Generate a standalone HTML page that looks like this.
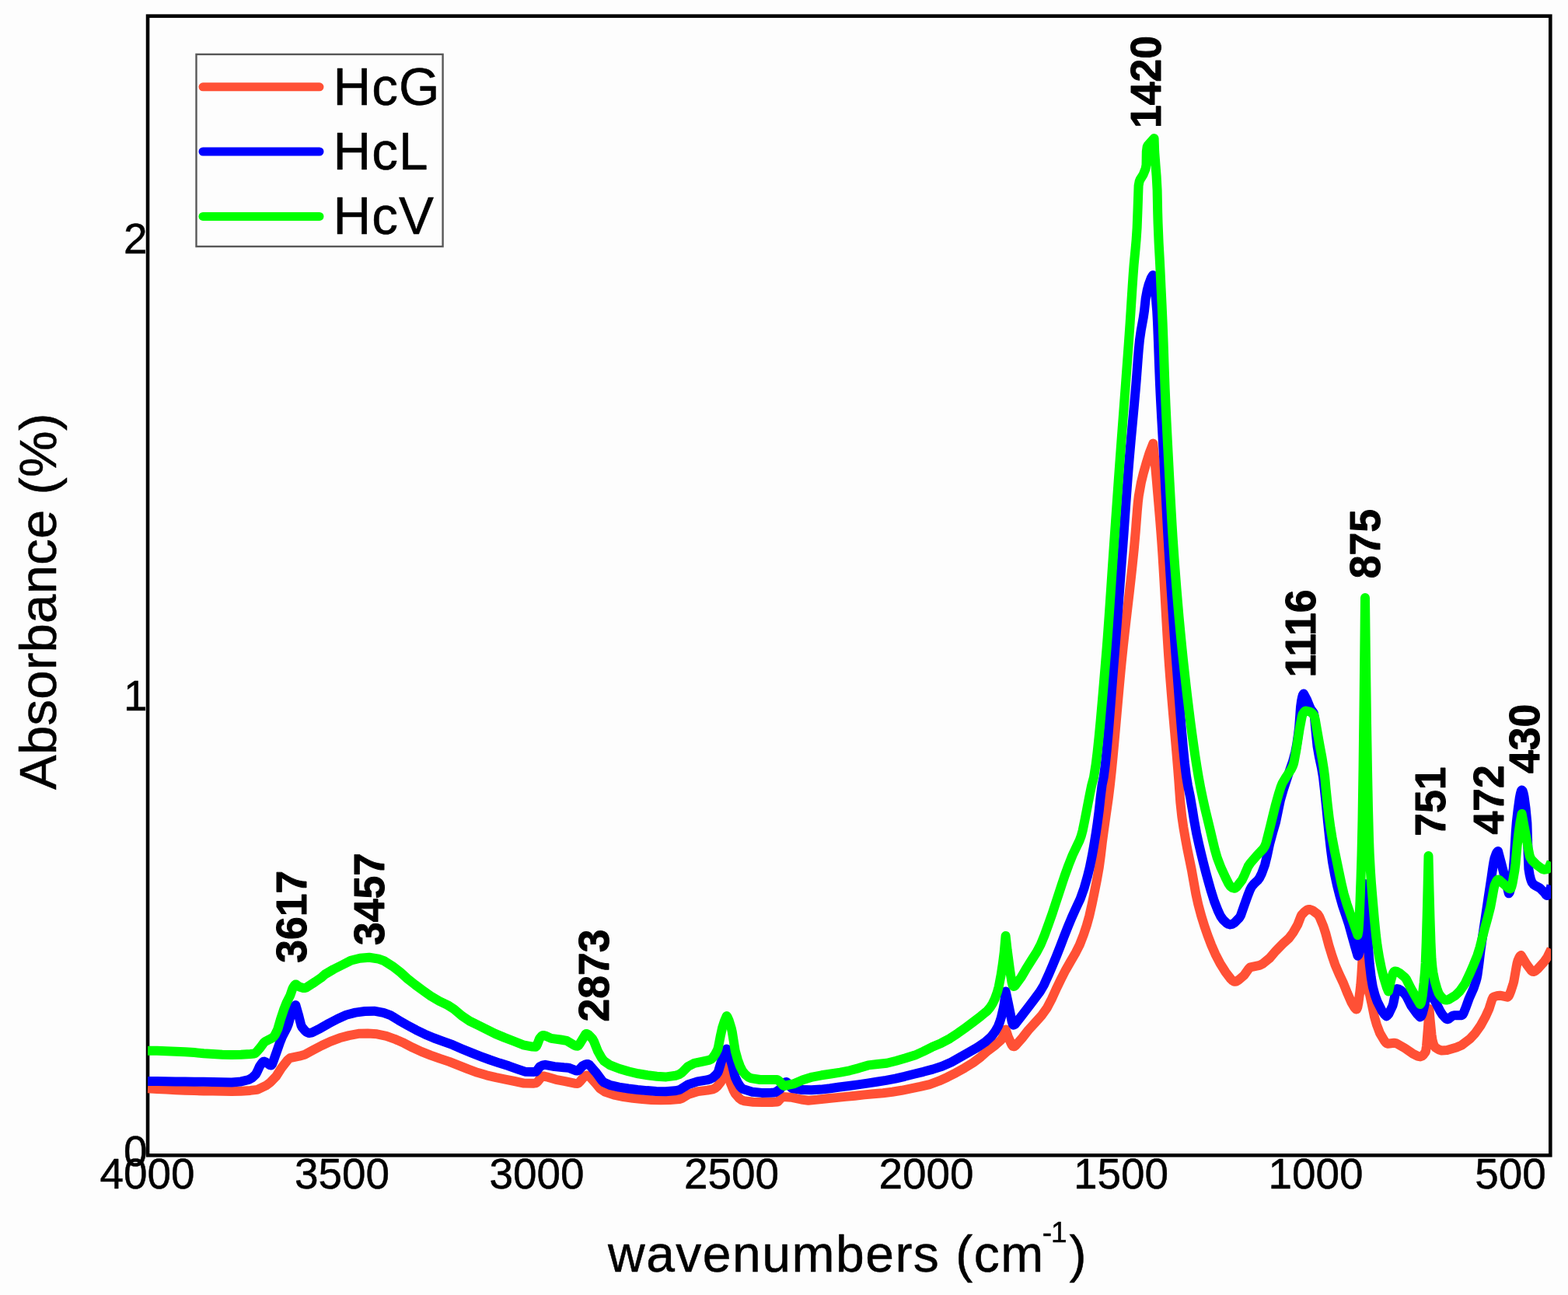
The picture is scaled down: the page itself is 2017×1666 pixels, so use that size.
<!DOCTYPE html>
<html lang="en">
<head>
<meta charset="utf-8">
<title>FTIR absorbance spectra - HcG, HcL, HcV</title>
<style>
  html, body { margin: 0; padding: 0; background: #fdfdfd; }
  body { width: 2017px; height: 1666px; overflow: hidden; font-family: "Liberation Sans", sans-serif; }
  svg { display: block; position: absolute; left: 0; top: 0; }
  text { font-family: "Liberation Sans", sans-serif; fill: #000; stroke: #000; stroke-width: 0.5px; stroke-linejoin: round; }
  text.pk { font-weight: bold; stroke-width: 1px; }
  .curve { fill: none; stroke-width: 12; stroke-linejoin: round; stroke-linecap: butt; }
</style>
</head>
<body>
<svg width="2017" height="1666" viewBox="0 0 2017 1666">
<rect x="0" y="0" width="2017" height="1666" fill="#fdfdfd"/>
<defs><clipPath id="plot"><rect x="189.6" y="20" width="1805.4" height="1466.5"/></clipPath></defs>

<rect x="190.05" y="20.65" width="1804.25" height="1465.65" fill="none" stroke="#000" stroke-width="4.6"/>
<g clip-path="url(#plot)">
<path class="curve" stroke="#ff5035" d="M190.0 1400.3 L202.0 1401.0 L214.0 1401.6 L226.0 1402.2 L238.0 1402.7 L250.0 1403.1 L262.0 1403.4 L274.0 1403.6 L286.0 1403.8 L298.0 1403.9 L310.0 1403.7 L322.0 1402.9 L331.0 1401.9 L342.0 1396.7 L348.0 1392.2 L355.0 1384.9 L362.0 1374.0 L370.0 1363.8 L373.0 1361.2 L385.0 1358.7 L392.0 1356.7 L403.0 1350.7 L414.0 1345.0 L425.0 1339.8 L437.0 1335.3 L449.0 1332.1 L461.0 1329.8 L473.0 1329.5 L485.0 1330.3 L497.0 1332.8 L509.0 1337.2 L520.0 1342.1 L531.0 1347.8 L542.0 1352.9 L554.0 1357.6 L566.0 1361.9 L578.0 1365.9 L590.0 1370.6 L602.0 1375.4 L614.0 1379.8 L626.0 1383.3 L638.0 1386.1 L650.0 1388.6 L662.0 1391.0 L674.0 1393.6 L686.0 1393.7 L689.0 1393.4 L690.0 1393.0 L692.0 1391.1 L696.0 1386.1 L697.0 1385.2 L698.0 1384.6 L699.0 1384.4 L703.0 1385.3 L715.0 1388.8 L727.0 1391.1 L739.0 1393.7 L743.0 1393.9 L744.0 1393.5 L746.0 1391.5 L750.4 1386.4 L754.0 1383.7 L755.3 1383.4 L757.0 1383.9 L759.0 1385.5 L767.0 1394.6 L772.0 1400.5 L778.0 1404.5 L790.0 1408.7 L802.0 1411.1 L814.0 1412.8 L826.0 1414.0 L838.0 1414.9 L850.0 1415.2 L862.0 1414.9 L874.0 1414.1 L877.0 1413.1 L886.0 1407.7 L898.0 1404.1 L910.0 1402.6 L917.0 1401.3 L920.0 1399.8 L923.0 1397.3 L927.0 1392.3 L928.0 1390.4 L930.0 1385.0 L933.8 1371.0 L936.8 1383.5 L939.8 1393.6 L943.8 1403.4 L945.8 1407.0 L950.8 1412.7 L953.8 1415.1 L956.8 1416.2 L968.8 1417.7 L980.8 1418.1 L992.8 1417.9 L999.8 1417.6 L1000.8 1417.0 L1005.8 1411.4 L1006.8 1410.9 L1018.8 1411.8 L1030.8 1414.5 L1039.8 1415.7 L1051.8 1414.6 L1063.8 1413.2 L1075.8 1412.1 L1087.8 1410.9 L1099.8 1409.7 L1111.8 1408.4 L1123.8 1407.3 L1135.8 1406.2 L1147.8 1404.7 L1159.8 1402.8 L1171.8 1400.4 L1183.8 1397.9 L1195.8 1395.1 L1207.8 1390.7 L1218.8 1385.7 L1229.8 1380.1 L1240.8 1373.9 L1251.8 1367.1 L1261.8 1359.6 L1270.8 1351.6 L1280.8 1344.1 L1286.8 1338.8 L1288.9 1336.3 L1290.8 1332.6 L1293.8 1324.5 L1296.8 1333.7 L1300.8 1342.7 L1301.8 1344.6 L1302.8 1345.9 L1303.8 1346.3 L1304.8 1346.1 L1306.8 1344.6 L1314.8 1335.5 L1322.8 1325.2 L1331.8 1315.4 L1339.8 1306.4 L1346.8 1296.7 L1352.8 1285.2 L1358.8 1272.1 L1364.8 1259.7 L1370.8 1247.9 L1376.8 1237.4 L1383.8 1225.4 L1388.8 1215.5 L1393.8 1202.6 L1397.8 1190.6 L1401.2 1178.5 L1404.8 1162.5 L1407.6 1148.7 L1410.8 1132.7 L1413.8 1116.0 L1415.8 1101.3 L1417.8 1084.1 L1419.8 1069.1 L1421.8 1055.0 L1423.8 1040.9 L1425.8 1026.8 L1427.8 1010.8 L1429.8 992.3 L1431.8 971.9 L1433.8 950.2 L1435.8 927.7 L1437.8 905.0 L1439.8 882.6 L1441.8 861.2 L1443.0 849.0 L1444.8 831.7 L1446.8 813.5 L1448.8 796.0 L1450.8 778.9 L1452.8 761.7 L1454.8 744.1 L1456.8 725.7 L1458.8 706.1 L1460.8 683.5 L1461.8 670.4 L1462.8 657.6 L1463.8 646.4 L1464.8 638.0 L1467.8 621.2 L1470.8 608.9 L1474.8 594.8 L1478.8 582.1 L1483.3 570.6 L1485.3 590.6 L1487.3 612.4 L1489.3 635.6 L1491.3 659.3 L1492.3 671.3 L1493.3 683.9 L1494.3 697.2 L1495.3 711.7 L1496.3 727.6 L1497.3 744.4 L1498.3 761.9 L1499.3 779.7 L1500.3 797.4 L1501.3 814.6 L1502.3 831.0 L1503.3 846.1 L1504.3 860.0 L1505.3 873.2 L1506.3 885.9 L1507.3 898.1 L1509.3 921.4 L1511.3 944.2 L1513.3 967.2 L1515.3 991.2 L1516.3 1004.0 L1517.3 1018.3 L1518.3 1032.0 L1520.3 1050.6 L1522.3 1064.2 L1524.9 1079.3 L1527.3 1092.2 L1530.3 1106.7 L1532.8 1119.0 L1535.3 1133.1 L1538.3 1149.9 L1541.3 1163.5 L1545.3 1178.4 L1549.3 1191.2 L1553.3 1202.9 L1558.3 1216.0 L1563.3 1227.4 L1569.3 1239.1 L1576.3 1250.3 L1583.3 1259.5 L1585.3 1261.4 L1587.3 1262.6 L1588.4 1262.8 L1590.3 1262.5 L1593.3 1260.8 L1600.3 1254.8 L1606.3 1246.3 L1608.3 1244.3 L1620.3 1241.9 L1624.3 1239.9 L1633.3 1232.5 L1641.3 1223.2 L1650.3 1214.0 L1658.3 1206.7 L1663.3 1200.0 L1669.3 1189.5 L1673.3 1179.2 L1674.3 1177.1 L1678.3 1172.8 L1681.3 1170.7 L1683.3 1170.0 L1685.3 1170.1 L1688.3 1171.1 L1695.3 1176.4 L1697.3 1179.5 L1702.3 1191.5 L1705.3 1200.9 L1709.3 1216.0 L1713.3 1229.0 L1717.3 1240.8 L1722.3 1252.6 L1728.3 1265.4 L1733.3 1277.9 L1738.3 1289.4 L1742.3 1296.1 L1743.3 1297.4 L1744.3 1298.2 L1745.0 1298.4 L1745.3 1298.3 L1746.3 1295.8 L1747.3 1290.9 L1749.3 1276.0 L1750.3 1267.2 L1751.3 1254.5 L1752.3 1237.5 L1753.3 1217.2 L1754.3 1194.2 L1755.0 1177.0 L1756.0 1210.3 L1757.0 1238.4 L1758.0 1259.0 L1759.0 1270.0 L1760.0 1274.0 L1762.0 1279.8 L1765.0 1293.6 L1768.0 1308.1 L1771.0 1318.5 L1775.0 1329.1 L1781.0 1339.2 L1783.0 1341.6 L1784.0 1342.3 L1785.3 1342.7 L1793.2 1341.7 L1796.0 1342.1 L1807.0 1348.4 L1817.0 1355.3 L1824.0 1358.9 L1827.0 1359.4 L1829.0 1358.7 L1831.0 1357.1 L1833.6 1353.5 L1834.0 1352.4 L1835.0 1345.8 L1837.0 1321.2 L1838.0 1305.9 L1838.5 1298.0 L1839.5 1310.8 L1841.5 1331.2 L1842.5 1337.8 L1843.5 1341.7 L1844.5 1344.5 L1845.5 1346.5 L1846.5 1347.7 L1850.5 1350.2 L1854.5 1351.5 L1861.5 1351.1 L1873.5 1347.5 L1880.5 1344.4 L1890.5 1336.8 L1897.5 1329.4 L1904.5 1319.5 L1910.5 1308.7 L1915.5 1297.7 L1919.5 1285.2 L1920.5 1283.3 L1921.5 1282.5 L1926.5 1280.9 L1929.5 1280.7 L1938.9 1282.7 L1939.5 1282.5 L1940.5 1281.6 L1941.5 1279.9 L1943.5 1275.0 L1946.7 1265.0 L1947.5 1261.8 L1950.5 1244.5 L1951.5 1239.3 L1952.6 1235.4 L1954.5 1231.3 L1955.5 1229.8 L1956.6 1229.0 L1963.6 1240.4 L1969.6 1248.5 L1970.6 1249.4 L1971.6 1249.9 L1972.6 1250.0 L1974.6 1249.3 L1977.6 1246.9 L1986.6 1236.9 L1990.6 1231.0 L1995.5 1221.0"/>
<path class="curve" stroke="#0000ff" d="M190.0 1391.0 L202.0 1391.1 L214.0 1391.2 L226.0 1391.4 L238.0 1391.5 L250.0 1391.7 L262.0 1391.8 L274.0 1392.1 L286.0 1392.3 L298.0 1392.4 L310.0 1391.4 L320.0 1389.0 L324.0 1386.8 L329.0 1382.1 L331.0 1378.4 L334.0 1371.7 L337.0 1367.5 L338.0 1366.4 L339.0 1365.7 L340.0 1365.6 L342.0 1366.5 L347.0 1370.1 L348.6 1370.5 L349.0 1370.4 L350.0 1369.2 L352.0 1364.1 L356.0 1352.7 L360.0 1341.3 L363.0 1333.8 L369.0 1322.3 L371.0 1317.3 L375.0 1302.5 L376.3 1299.0 L379.0 1294.3 L380.3 1293.0 L384.3 1307.0 L387.3 1318.9 L388.3 1321.1 L392.3 1326.0 L394.3 1327.7 L396.3 1328.7 L398.3 1329.0 L401.3 1328.3 L412.3 1322.8 L423.3 1316.5 L434.3 1310.7 L445.3 1305.8 L457.3 1302.6 L469.3 1301.0 L481.3 1300.7 L493.3 1302.9 L502.3 1306.2 L513.3 1312.8 L524.3 1319.1 L535.3 1325.1 L546.3 1330.4 L558.3 1335.5 L570.3 1339.8 L582.3 1344.2 L594.3 1349.4 L606.3 1354.4 L618.3 1359.1 L630.3 1363.5 L642.3 1367.6 L654.3 1371.3 L666.3 1375.6 L675.3 1378.7 L687.3 1378.9 L689.3 1378.7 L690.3 1377.9 L694.3 1372.4 L698.3 1370.3 L701.3 1369.8 L713.3 1372.1 L725.3 1373.3 L731.3 1373.7 L740.3 1377.2 L742.5 1377.5 L743.3 1377.4 L744.3 1376.8 L749.3 1371.4 L753.3 1369.3 L755.3 1368.9 L756.3 1369.0 L758.3 1370.1 L766.2 1379.2 L774.3 1390.1 L776.3 1392.2 L784.3 1395.8 L796.3 1398.6 L808.3 1400.5 L820.3 1402.0 L832.3 1403.1 L844.3 1403.9 L856.3 1404.3 L868.3 1403.3 L874.3 1402.0 L885.3 1395.2 L897.1 1391.4 L909.3 1389.4 L914.3 1387.9 L917.3 1386.2 L921.3 1382.5 L923.3 1379.9 L924.3 1377.6 L928.3 1364.3 L933.3 1352.4 L934.8 1349.5 L939.8 1363.4 L941.8 1370.2 L944.8 1382.6 L945.8 1386.1 L948.8 1392.4 L951.8 1397.2 L953.8 1399.5 L955.8 1401.1 L967.8 1404.7 L979.8 1405.9 L991.8 1405.7 L995.8 1405.5 L997.8 1404.9 L1003.8 1400.9 L1008.8 1393.7 L1009.8 1392.6 L1011.2 1392.0 L1011.8 1392.1 L1012.8 1392.8 L1017.8 1399.3 L1019.0 1400.0 L1031.8 1402.1 L1043.8 1402.3 L1055.8 1401.6 L1067.8 1400.3 L1079.8 1398.5 L1091.8 1397.0 L1103.8 1395.4 L1115.8 1393.6 L1127.8 1391.8 L1139.8 1389.9 L1151.8 1387.6 L1163.8 1384.8 L1175.8 1381.7 L1187.8 1378.8 L1199.8 1375.6 L1211.8 1371.8 L1223.8 1366.5 L1234.8 1360.2 L1245.8 1354.1 L1256.8 1347.7 L1267.8 1340.3 L1274.8 1333.9 L1279.8 1327.6 L1284.0 1320.1 L1285.8 1315.6 L1287.8 1309.3 L1290.8 1296.6 L1291.8 1291.2 L1293.7 1275.5 L1296.7 1289.4 L1299.7 1304.3 L1301.7 1314.2 L1302.7 1317.4 L1303.7 1318.6 L1304.7 1318.4 L1305.7 1317.7 L1313.7 1307.6 L1321.7 1297.2 L1329.7 1286.7 L1337.7 1275.9 L1342.7 1267.5 L1348.7 1254.3 L1353.7 1242.6 L1358.7 1230.6 L1363.7 1218.0 L1368.7 1204.8 L1373.7 1192.2 L1378.7 1180.3 L1383.7 1169.1 L1389.7 1156.3 L1394.7 1142.2 L1398.7 1128.2 L1401.7 1116.1 L1404.7 1101.5 L1406.9 1089.2 L1409.7 1072.1 L1411.7 1058.5 L1413.7 1043.3 L1415.7 1024.9 L1417.6 1009.9 L1419.7 999.7 L1421.7 984.6 L1423.7 965.2 L1425.7 942.7 L1426.7 930.5 L1427.7 918.0 L1428.7 905.2 L1429.7 892.2 L1430.7 879.3 L1431.7 866.6 L1432.7 854.1 L1433.7 841.9 L1434.7 829.5 L1435.7 816.9 L1436.7 804.1 L1437.7 791.0 L1438.7 777.9 L1439.7 764.6 L1440.7 751.2 L1441.7 737.8 L1442.7 724.4 L1443.7 711.0 L1444.7 697.6 L1445.7 684.0 L1446.7 670.0 L1447.7 656.0 L1448.7 642.0 L1449.7 628.2 L1450.7 614.8 L1451.7 602.0 L1452.7 589.8 L1454.7 567.0 L1456.7 545.4 L1458.7 523.9 L1460.7 501.6 L1461.7 489.4 L1462.7 476.2 L1463.7 462.8 L1464.7 450.3 L1466.0 437.0 L1467.7 425.3 L1470.7 408.8 L1472.0 400.0 L1473.7 384.2 L1475.7 373.4 L1477.7 365.8 L1480.7 357.9 L1483.0 354.0 L1485.0 367.9 L1487.0 385.6 L1488.2 400.0 L1489.0 414.9 L1490.0 440.4 L1491.0 468.7 L1492.0 494.6 L1493.0 515.3 L1494.0 534.2 L1495.0 552.0 L1496.0 569.4 L1497.0 587.0 L1498.0 605.5 L1499.0 624.8 L1500.0 644.3 L1501.0 663.7 L1502.0 682.4 L1503.0 700.0 L1504.0 716.7 L1505.0 732.9 L1506.0 748.8 L1507.0 764.2 L1508.0 779.3 L1509.0 794.0 L1510.0 808.3 L1511.0 822.2 L1512.0 835.8 L1513.0 849.0 L1514.0 862.1 L1515.0 875.3 L1516.0 888.6 L1517.0 901.7 L1518.0 914.7 L1519.0 927.3 L1520.0 939.6 L1522.0 962.4 L1524.0 982.4 L1526.0 998.6 L1528.0 1010.6 L1531.0 1025.0 L1534.0 1042.4 L1536.0 1055.1 L1539.0 1071.4 L1542.0 1085.2 L1545.0 1097.9 L1548.0 1110.1 L1551.0 1121.8 L1554.6 1134.9 L1558.0 1146.8 L1562.0 1159.5 L1567.0 1172.2 L1570.0 1178.5 L1573.0 1182.8 L1578.0 1187.6 L1580.0 1188.8 L1582.4 1189.4 L1585.0 1188.9 L1588.0 1187.1 L1594.4 1180.5 L1596.0 1177.8 L1600.0 1166.3 L1605.0 1152.3 L1608.0 1144.6 L1610.0 1140.8 L1613.0 1137.1 L1618.0 1132.4 L1620.0 1129.7 L1623.0 1123.8 L1627.0 1112.8 L1630.0 1100.6 L1633.0 1086.3 L1637.0 1071.4 L1641.0 1057.9 L1644.0 1043.3 L1647.0 1029.1 L1651.0 1015.4 L1655.0 1003.2 L1659.0 991.2 L1663.0 979.7 L1666.3 967.2 L1668.0 958.5 L1670.0 944.9 L1671.2 934.8 L1673.0 909.6 L1674.0 902.2 L1675.0 897.2 L1676.0 893.8 L1677.0 892.5 L1681.0 900.0 L1685.0 909.9 L1686.0 912.0 L1689.0 916.0 L1690.0 918.0 L1691.0 923.6 L1693.0 945.4 L1694.5 960.0 L1697.0 974.1 L1700.0 988.0 L1702.0 999.7 L1704.0 1017.2 L1706.0 1036.9 L1708.0 1057.4 L1710.0 1076.0 L1712.0 1093.8 L1714.0 1108.8 L1717.0 1125.3 L1720.0 1139.0 L1723.0 1150.8 L1727.0 1165.0 L1731.0 1176.8 L1735.0 1189.0 L1739.0 1203.4 L1743.0 1217.5 L1746.5 1229.7 L1747.5 1228.4 L1748.5 1224.7 L1750.5 1212.1 L1752.0 1200.0 L1753.5 1181.3 L1754.5 1163.5 L1755.5 1143.3 L1755.8 1137.0 L1756.8 1158.6 L1757.8 1178.6 L1758.8 1196.6 L1759.8 1213.3 L1760.8 1228.5 L1761.8 1240.4 L1763.8 1257.6 L1765.8 1269.3 L1768.8 1280.7 L1771.8 1288.8 L1777.8 1300.6 L1780.8 1304.9 L1783.4 1307.3 L1784.4 1306.7 L1786.4 1304.3 L1791.4 1294.0 L1792.4 1290.3 L1795.4 1275.7 L1796.4 1272.7 L1797.1 1272.0 L1799.4 1272.5 L1802.4 1274.4 L1807.4 1279.1 L1809.4 1282.1 L1815.4 1294.1 L1822.4 1303.8 L1826.7 1308.3 L1827.7 1307.8 L1828.7 1306.2 L1829.7 1303.8 L1831.7 1296.3 L1833.0 1290.0 L1833.7 1284.0 L1834.7 1268.5 L1835.7 1247.0 L1836.7 1221.6 L1837.5 1200.0 L1838.5 1225.1 L1839.5 1247.5 L1840.5 1265.5 L1841.5 1277.1 L1842.0 1280.0 L1843.5 1284.0 L1846.5 1288.8 L1852.5 1300.7 L1855.5 1305.5 L1859.5 1309.9 L1860.5 1310.7 L1862.1 1311.2 L1863.5 1310.8 L1868.5 1306.8 L1870.5 1306.3 L1879.8 1306.3 L1880.5 1306.1 L1881.5 1305.2 L1882.5 1303.6 L1885.5 1296.3 L1889.7 1284.6 L1895.5 1271.6 L1898.5 1262.7 L1899.5 1259.0 L1900.5 1254.0 L1902.5 1239.4 L1904.5 1222.9 L1906.5 1208.7 L1908.5 1195.3 L1910.5 1182.1 L1912.5 1168.7 L1914.5 1155.2 L1916.5 1142.0 L1918.5 1128.7 L1920.5 1114.7 L1921.5 1108.7 L1922.5 1104.0 L1924.5 1098.5 L1925.5 1096.5 L1926.5 1095.3 L1927.0 1095.1 L1931.0 1110.1 L1934.0 1121.7 L1937.0 1133.7 L1940.0 1146.0 L1940.8 1149.3 L1941.8 1148.0 L1942.8 1144.5 L1944.8 1132.6 L1946.7 1117.8 L1947.8 1104.1 L1948.8 1086.9 L1949.8 1069.9 L1950.8 1057.8 L1952.8 1040.5 L1954.8 1026.2 L1955.8 1021.1 L1956.8 1017.6 L1957.6 1016.4 L1958.6 1017.4 L1959.6 1020.4 L1960.6 1025.2 L1962.6 1040.0 L1964.4 1058.7 L1965.6 1097.2 L1966.4 1117.8 L1967.6 1125.0 L1968.6 1129.4 L1969.6 1132.7 L1970.6 1135.1 L1972.6 1137.8 L1974.6 1139.2 L1980.6 1142.3 L1986.6 1148.2 L1988.6 1151.1 L1989.6 1151.9 L1990.0 1152.0 L1990.6 1151.8 L1991.6 1150.8 L1992.6 1148.9 L1994.6 1142.7 L1995.5 1139.0"/>
<path class="curve" stroke="#00ff00" d="M190.0 1351.7 L202.0 1351.8 L214.0 1352.2 L226.0 1352.7 L238.0 1353.2 L250.0 1354.1 L262.0 1355.2 L274.0 1356.0 L286.0 1356.7 L298.0 1357.0 L310.0 1356.8 L322.0 1356.0 L327.0 1355.5 L328.0 1355.1 L330.0 1353.4 L335.0 1347.5 L339.0 1341.9 L341.0 1340.0 L350.0 1335.4 L352.0 1333.7 L354.0 1330.9 L357.3 1324.0 L361.0 1311.2 L365.0 1299.1 L369.0 1289.1 L373.3 1280.6 L376.0 1272.7 L377.0 1270.5 L379.0 1267.4 L380.0 1266.6 L381.0 1266.6 L385.0 1269.5 L390.0 1271.0 L392.0 1271.1 L394.0 1270.5 L405.0 1263.4 L413.0 1257.9 L418.0 1253.5 L429.0 1247.0 L440.0 1241.5 L451.0 1235.8 L463.0 1232.7 L475.0 1231.7 L487.0 1233.6 L494.0 1236.2 L505.0 1243.1 L515.0 1250.8 L524.0 1259.0 L534.0 1266.9 L544.0 1274.3 L554.0 1281.4 L565.0 1287.9 L576.0 1293.1 L584.0 1298.2 L594.0 1306.8 L604.0 1313.5 L615.0 1318.8 L626.0 1324.3 L637.0 1329.9 L649.0 1334.9 L661.0 1339.5 L673.0 1344.3 L685.0 1346.6 L689.0 1346.8 L690.0 1345.9 L691.0 1344.0 L694.0 1336.3 L695.0 1334.8 L697.0 1332.7 L698.0 1332.1 L699.0 1331.9 L701.0 1332.3 L709.0 1335.9 L721.0 1337.5 L729.0 1338.9 L739.0 1344.9 L741.0 1345.6 L743.0 1345.7 L744.0 1345.1 L746.0 1342.4 L753.0 1330.8 L754.0 1330.0 L755.0 1330.0 L757.0 1331.0 L762.3 1336.7 L764.0 1339.7 L769.0 1352.4 L774.0 1361.2 L777.0 1365.1 L785.0 1370.4 L797.0 1375.0 L809.0 1378.5 L821.0 1381.3 L833.0 1383.2 L845.0 1384.7 L857.0 1385.4 L869.0 1383.7 L874.0 1382.1 L877.0 1380.1 L885.0 1372.0 L893.0 1367.9 L905.0 1365.3 L913.0 1363.6 L915.0 1362.5 L917.0 1360.5 L920.0 1356.3 L923.0 1350.5 L924.0 1347.2 L927.0 1331.7 L929.0 1322.7 L932.0 1313.4 L934.8 1307.0 L935.8 1308.5 L937.8 1313.2 L940.8 1323.0 L941.8 1327.5 L943.8 1339.9 L945.8 1352.1 L948.8 1362.9 L951.8 1371.3 L954.8 1377.4 L958.8 1382.4 L962.8 1385.8 L965.8 1387.1 L977.8 1389.0 L989.8 1389.0 L999.8 1389.1 L1000.8 1389.5 L1002.8 1391.3 L1006.8 1395.7 L1007.8 1396.5 L1009.2 1396.9 L1021.8 1394.1 L1032.8 1389.3 L1044.8 1385.6 L1056.8 1383.3 L1068.8 1381.5 L1080.8 1379.6 L1092.8 1377.3 L1104.8 1374.1 L1116.8 1370.4 L1128.8 1369.0 L1140.8 1367.7 L1152.8 1364.7 L1164.8 1361.3 L1176.8 1357.6 L1187.8 1352.6 L1198.8 1347.1 L1210.8 1341.9 L1221.8 1336.1 L1231.8 1329.4 L1241.8 1322.3 L1251.8 1314.9 L1261.8 1307.2 L1269.8 1300.6 L1273.8 1295.9 L1276.8 1291.1 L1279.8 1284.8 L1282.9 1276.3 L1284.8 1269.2 L1287.8 1253.5 L1289.8 1240.2 L1291.8 1224.5 L1293.6 1204.0 L1295.6 1221.9 L1297.6 1236.7 L1299.6 1251.7 L1301.6 1263.8 L1302.6 1267.5 L1303.7 1269.0 L1304.6 1268.8 L1305.6 1268.1 L1313.6 1257.3 L1319.6 1246.9 L1326.6 1235.7 L1333.6 1224.8 L1338.6 1215.2 L1343.6 1203.1 L1348.6 1189.4 L1353.6 1175.2 L1357.6 1163.0 L1361.6 1150.8 L1365.6 1138.6 L1369.6 1126.6 L1374.6 1112.9 L1379.6 1100.3 L1385.6 1087.6 L1388.6 1081.3 L1390.8 1075.4 L1392.6 1068.7 L1395.6 1054.1 L1398.4 1039.7 L1401.6 1023.1 L1404.3 1010.0 L1407.0 1000.0 L1409.6 983.8 L1411.6 967.6 L1413.6 948.6 L1415.6 927.6 L1417.6 905.1 L1419.6 881.8 L1421.6 858.1 L1423.6 834.1 L1424.6 821.1 L1425.6 807.5 L1426.6 793.4 L1427.6 778.9 L1428.6 764.2 L1429.6 749.3 L1430.6 734.5 L1431.6 719.8 L1432.6 705.4 L1433.6 691.2 L1434.6 677.0 L1435.6 662.7 L1436.6 648.4 L1437.6 634.2 L1438.6 620.0 L1439.6 606.0 L1440.6 592.2 L1441.6 578.7 L1442.6 565.3 L1443.6 552.0 L1444.6 538.8 L1445.6 525.5 L1446.6 512.2 L1447.6 499.0 L1448.6 485.2 L1449.6 471.8 L1450.6 458.2 L1451.6 444.5 L1452.6 430.4 L1453.6 415.8 L1454.6 400.4 L1455.6 384.5 L1456.6 368.9 L1457.6 354.0 L1458.6 340.7 L1460.6 319.9 L1461.6 308.4 L1462.6 293.4 L1463.6 267.5 L1464.2 250.0 L1464.6 238.8 L1465.6 233.5 L1466.6 231.0 L1470.6 224.6 L1473.6 217.0 L1474.5 212.0 L1474.8 195.0 L1475.6 189.0 L1476.6 187.0 L1484.6 178.0 L1485.2 195.0 L1486.6 213.6 L1487.6 226.5 L1488.6 244.5 L1489.2 274.0 L1489.6 287.5 L1490.6 312.1 L1491.6 330.3 L1492.4 346.0 L1493.6 371.7 L1494.6 392.8 L1495.6 415.3 L1496.6 441.3 L1497.6 471.3 L1498.6 499.0 L1499.6 522.2 L1500.6 543.5 L1501.6 563.5 L1502.6 582.8 L1503.4 598.0 L1504.6 620.8 L1505.6 639.6 L1506.6 657.7 L1507.6 675.0 L1508.6 691.1 L1509.6 705.7 L1510.6 719.6 L1511.6 733.1 L1512.6 746.1 L1513.6 758.7 L1514.6 770.8 L1516.6 793.9 L1518.6 815.4 L1520.6 835.6 L1522.0 849.0 L1523.6 863.7 L1525.6 881.6 L1527.6 898.7 L1529.6 915.1 L1531.6 930.9 L1533.6 945.9 L1535.6 960.2 L1537.6 973.8 L1539.6 986.7 L1541.6 998.8 L1544.6 1015.0 L1547.6 1029.2 L1550.6 1042.5 L1553.6 1054.9 L1556.6 1067.3 L1559.6 1080.2 L1562.6 1092.6 L1565.6 1103.1 L1570.6 1116.3 L1576.6 1129.2 L1580.6 1137.2 L1582.6 1140.1 L1585.6 1142.3 L1587.6 1142.8 L1588.6 1142.6 L1590.6 1141.3 L1597.6 1132.3 L1600.6 1126.2 L1605.6 1114.5 L1608.6 1110.1 L1616.6 1100.9 L1624.6 1092.4 L1627.0 1088.7 L1628.6 1084.7 L1631.6 1073.0 L1634.6 1060.9 L1637.6 1048.5 L1640.6 1036.4 L1644.6 1022.1 L1647.6 1012.4 L1649.6 1007.5 L1653.6 1000.8 L1660.6 990.2 L1662.6 986.3 L1663.7 983.4 L1664.6 980.0 L1667.0 967.2 L1669.6 950.8 L1671.6 938.1 L1674.6 922.3 L1675.6 918.8 L1677.6 915.9 L1678.6 915.0 L1680.0 914.5 L1684.6 915.5 L1686.6 916.6 L1688.6 918.3 L1690.0 920.0 L1690.6 921.2 L1691.6 924.8 L1694.6 942.0 L1697.6 959.0 L1700.6 975.1 L1702.6 987.6 L1704.2 999.6 L1705.6 1014.7 L1707.6 1034.0 L1709.6 1051.1 L1711.5 1065.0 L1713.6 1077.8 L1716.6 1093.6 L1719.6 1108.1 L1722.6 1122.7 L1725.6 1136.9 L1728.6 1149.7 L1732.6 1163.3 L1736.6 1174.9 L1741.6 1188.9 L1745.6 1200.4 L1746.5 1203.0 L1747.5 1197.5 L1748.5 1182.3 L1749.5 1159.7 L1750.5 1131.5 L1751.5 1100.0 L1752.5 1055.6 L1753.5 990.6 L1754.5 909.7 L1755.5 817.7 L1756.0 769.0 L1757.0 854.6 L1758.0 928.4 L1759.0 990.3 L1760.0 1040.0 L1761.0 1078.7 L1761.7 1098.0 L1763.0 1122.1 L1764.0 1136.3 L1765.0 1148.7 L1766.0 1160.6 L1768.0 1183.6 L1770.0 1203.5 L1771.6 1216.2 L1774.0 1231.0 L1777.0 1245.9 L1780.0 1257.8 L1784.0 1270.7 L1786.0 1275.5 L1789.0 1262.0 L1791.0 1254.7 L1792.0 1252.1 L1793.0 1250.3 L1794.2 1249.5 L1797.0 1250.0 L1801.0 1252.2 L1807.0 1257.3 L1809.0 1259.8 L1815.0 1271.6 L1821.0 1282.3 L1826.7 1292.0 L1827.7 1290.7 L1828.7 1287.0 L1829.7 1281.1 L1831.7 1264.1 L1833.0 1250.0 L1833.7 1238.6 L1834.7 1212.3 L1835.7 1177.1 L1836.7 1136.0 L1837.5 1101.0 L1838.5 1143.3 L1839.5 1181.2 L1840.5 1212.1 L1841.5 1233.6 L1842.5 1244.5 L1843.5 1251.7 L1845.5 1261.6 L1848.5 1272.2 L1850.5 1277.6 L1852.5 1280.9 L1856.5 1285.1 L1858.5 1286.3 L1860.5 1286.6 L1863.5 1285.9 L1872.5 1280.3 L1877.5 1275.4 L1884.5 1265.6 L1890.5 1252.9 L1895.5 1241.3 L1900.5 1228.9 L1903.5 1219.3 L1906.5 1207.6 L1909.5 1195.8 L1913.5 1181.4 L1917.2 1167.0 L1919.5 1154.6 L1921.5 1143.4 L1922.5 1139.2 L1924.5 1134.5 L1925.5 1132.8 L1926.5 1131.7 L1927.5 1131.6 L1928.5 1132.0 L1938.5 1140.9 L1940.5 1142.5 L1941.5 1143.1 L1942.8 1143.4 L1943.5 1142.9 L1944.5 1140.4 L1945.5 1136.4 L1948.5 1119.1 L1949.5 1111.4 L1951.5 1089.1 L1953.5 1071.5 L1955.5 1057.8 L1957.6 1046.9 L1960.6 1063.2 L1963.5 1078.4 L1965.6 1090.6 L1967.6 1100.7 L1968.6 1103.4 L1970.6 1106.6 L1976.6 1112.5 L1983.6 1117.8 L1986.0 1118.7 L1990.6 1118.0 L1991.6 1117.2 L1992.6 1115.7 L1995.5 1109.0"/>
</g>
<text transform="translate(189.5 1500) scale(0.98 1)" font-size="56" text-anchor="end">0</text>
<text transform="translate(189.5 914) scale(0.98 1)" font-size="56" text-anchor="end">1</text>
<text transform="translate(189.5 326) scale(0.98 1)" font-size="56" text-anchor="end">2</text>
<rect x="252.5" y="69.9" width="317.1" height="247.2" fill="#fdfdfd" stroke="#585858" stroke-width="2.4"/>
<line x1="261" y1="111.8" x2="411" y2="111.8" stroke="#ff5035" stroke-width="11" stroke-linecap="round"/>
<text transform="translate(428.5 134.7) scale(0.985 1)" font-size="68.5" letter-spacing="1">HcG</text>
<line x1="261" y1="195" x2="411" y2="195" stroke="#0000ff" stroke-width="11" stroke-linecap="round"/>
<text transform="translate(428.5 218.2) scale(0.985 1)" font-size="68.5" letter-spacing="1">HcL</text>
<line x1="261" y1="278.4" x2="411" y2="278.4" stroke="#00ff00" stroke-width="11" stroke-linecap="round"/>
<text transform="translate(428.5 301.4) scale(0.985 1)" font-size="68.5" letter-spacing="1">HcV</text>
<text transform="translate(189.5 1529) scale(0.98 1)" font-size="56" text-anchor="middle">4000</text>
<text transform="translate(440.0 1529) scale(0.98 1)" font-size="56" text-anchor="middle">3500</text>
<text transform="translate(690.5 1529) scale(0.98 1)" font-size="56" text-anchor="middle">3000</text>
<text transform="translate(941.0 1529) scale(0.98 1)" font-size="56" text-anchor="middle">2500</text>
<text transform="translate(1191.5 1529) scale(0.98 1)" font-size="56" text-anchor="middle">2000</text>
<text transform="translate(1442.0 1529) scale(0.98 1)" font-size="56" text-anchor="middle">1500</text>
<text transform="translate(1692.5 1529) scale(0.98 1)" font-size="56" text-anchor="middle">1000</text>
<text transform="translate(1943.0 1529) scale(0.98 1)" font-size="56" text-anchor="middle">500</text>
<text transform="translate(782 1636)" font-size="66" letter-spacing="1.5">wavenumbers (cm<tspan font-size="37" dy="-38" dx="-3" letter-spacing="-1">-1</tspan><tspan dy="38" dx="4">)</tspan></text>
<text transform="translate(72 1016) rotate(-90)" font-size="67" letter-spacing="0.3">Absorbance (%)</text>
<text class="pk" transform="translate(394.2 1238.7) rotate(-90) scale(0.972 1)" font-size="55">3617</text>
<text class="pk" transform="translate(493.5 1216) rotate(-90) scale(0.972 1)" font-size="55">3457</text>
<text class="pk" transform="translate(783.2 1314.5) rotate(-90) scale(0.972 1)" font-size="55">2873</text>
<text class="pk" transform="translate(1493.0 165) rotate(-90) scale(0.972 1)" font-size="55">1420</text>
<text class="pk" transform="translate(1692 871.5) rotate(-90) scale(0.972 1)" font-size="55">1116</text>
<text class="pk" transform="translate(1775.0 744.3) rotate(-90) scale(0.972 1)" font-size="55">875</text>
<text class="pk" transform="translate(1858.6 1075.8) rotate(-90) scale(0.972 1)" font-size="55">751</text>
<text class="pk" transform="translate(1934.4 1073.5) rotate(-90) scale(0.972 1)" font-size="55">472</text>
<text class="pk" transform="translate(1979.6 995) rotate(-90) scale(0.972 1)" font-size="55">430</text>
</svg>
</body>
</html>
